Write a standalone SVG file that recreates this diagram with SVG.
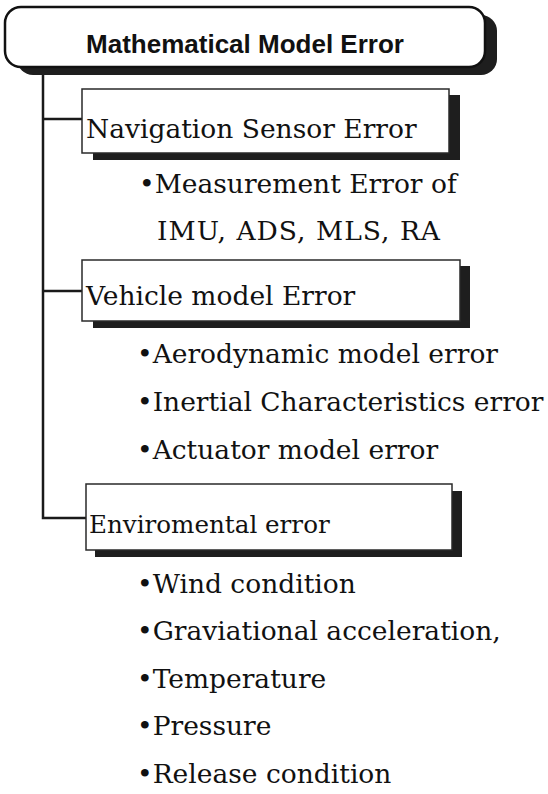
<svg xmlns="http://www.w3.org/2000/svg" width="548" height="794" viewBox="0 0 548 794">
  <style>
    .shadow { fill: #1e1e1e; }
    .box { fill: #ffffff; stroke: #2a2a2a; stroke-width: 1.5; }
    .rootbox { fill: #ffffff; stroke: #111111; stroke-width: 2.5; }
    .wire { fill: none; stroke: #1a1a1a; stroke-width: 2.5; }
    .title { font-family: "Liberation Sans", Arial, sans-serif; font-weight: bold; font-size: 26px; fill: #111; }
    .head { font-family: "DejaVu Serif", "Liberation Serif", serif; font-size: 26.5px; fill: #111; }
    .item { font-family: "DejaVu Serif", "Liberation Serif", serif; font-size: 26.5px; fill: #111; }
  </style>

  <rect width="548" height="794" fill="#ffffff"/>

  <!-- tree connectors -->
  <g id="connectors">
    <polyline class="wire" points="43,67 43,518 86,518"/>
    <line class="wire" x1="43" y1="119" x2="82" y2="119"/>
    <line class="wire" x1="43" y1="291" x2="82" y2="291"/>
  </g>

  <!-- root -->
  <g id="root">
    <rect class="shadow" x="17" y="15" width="480" height="60" rx="16"/>
    <rect class="rootbox" x="5" y="7" width="480" height="60" rx="16"/>
    <text class="title" x="245" y="53" text-anchor="middle">Mathematical Model Error</text>
  </g>

  <!-- navigation sensor branch -->
  <g id="nav">
    <rect class="shadow" x="93" y="95" width="367" height="65"/>
    <rect class="box" x="82" y="89" width="367" height="64"/>
    <text class="head" x="86" y="138">Navigation Sensor Error</text>
    <text class="item" x="139" y="193">•Measurement Error of</text>
    <text class="item" x="157" y="240" textLength="283" lengthAdjust="spacing">IMU, ADS, MLS, RA</text>
  </g>

  <!-- vehicle model branch -->
  <g id="vehicle">
    <rect class="shadow" x="93" y="266" width="377" height="62"/>
    <rect class="box" x="82" y="260" width="378" height="61"/>
    <text class="head" x="86" y="305">Vehicle model Error</text>
    <text class="item" x="137" y="363">•Aerodynamic model error</text>
    <text class="item" x="137" y="411">•Inertial Characteristics error</text>
    <text class="item" x="137" y="459">•Actuator model error</text>
  </g>

  <!-- environmental branch -->
  <g id="env">
    <rect class="shadow" x="95" y="491" width="367" height="66"/>
    <rect class="box" x="86" y="484" width="366" height="66"/>
    <text class="head" x="89" y="533" style="font-size:24.6px">Enviromental error</text>
    <text class="item" x="137" y="593">•Wind condition</text>
    <text class="item" x="137" y="640">•Graviational acceleration,</text>
    <text class="item" x="137" y="688">•Temperature</text>
    <text class="item" x="137" y="735">•Pressure</text>
    <text class="item" x="137" y="783">•Release condition</text>
  </g>
</svg>
